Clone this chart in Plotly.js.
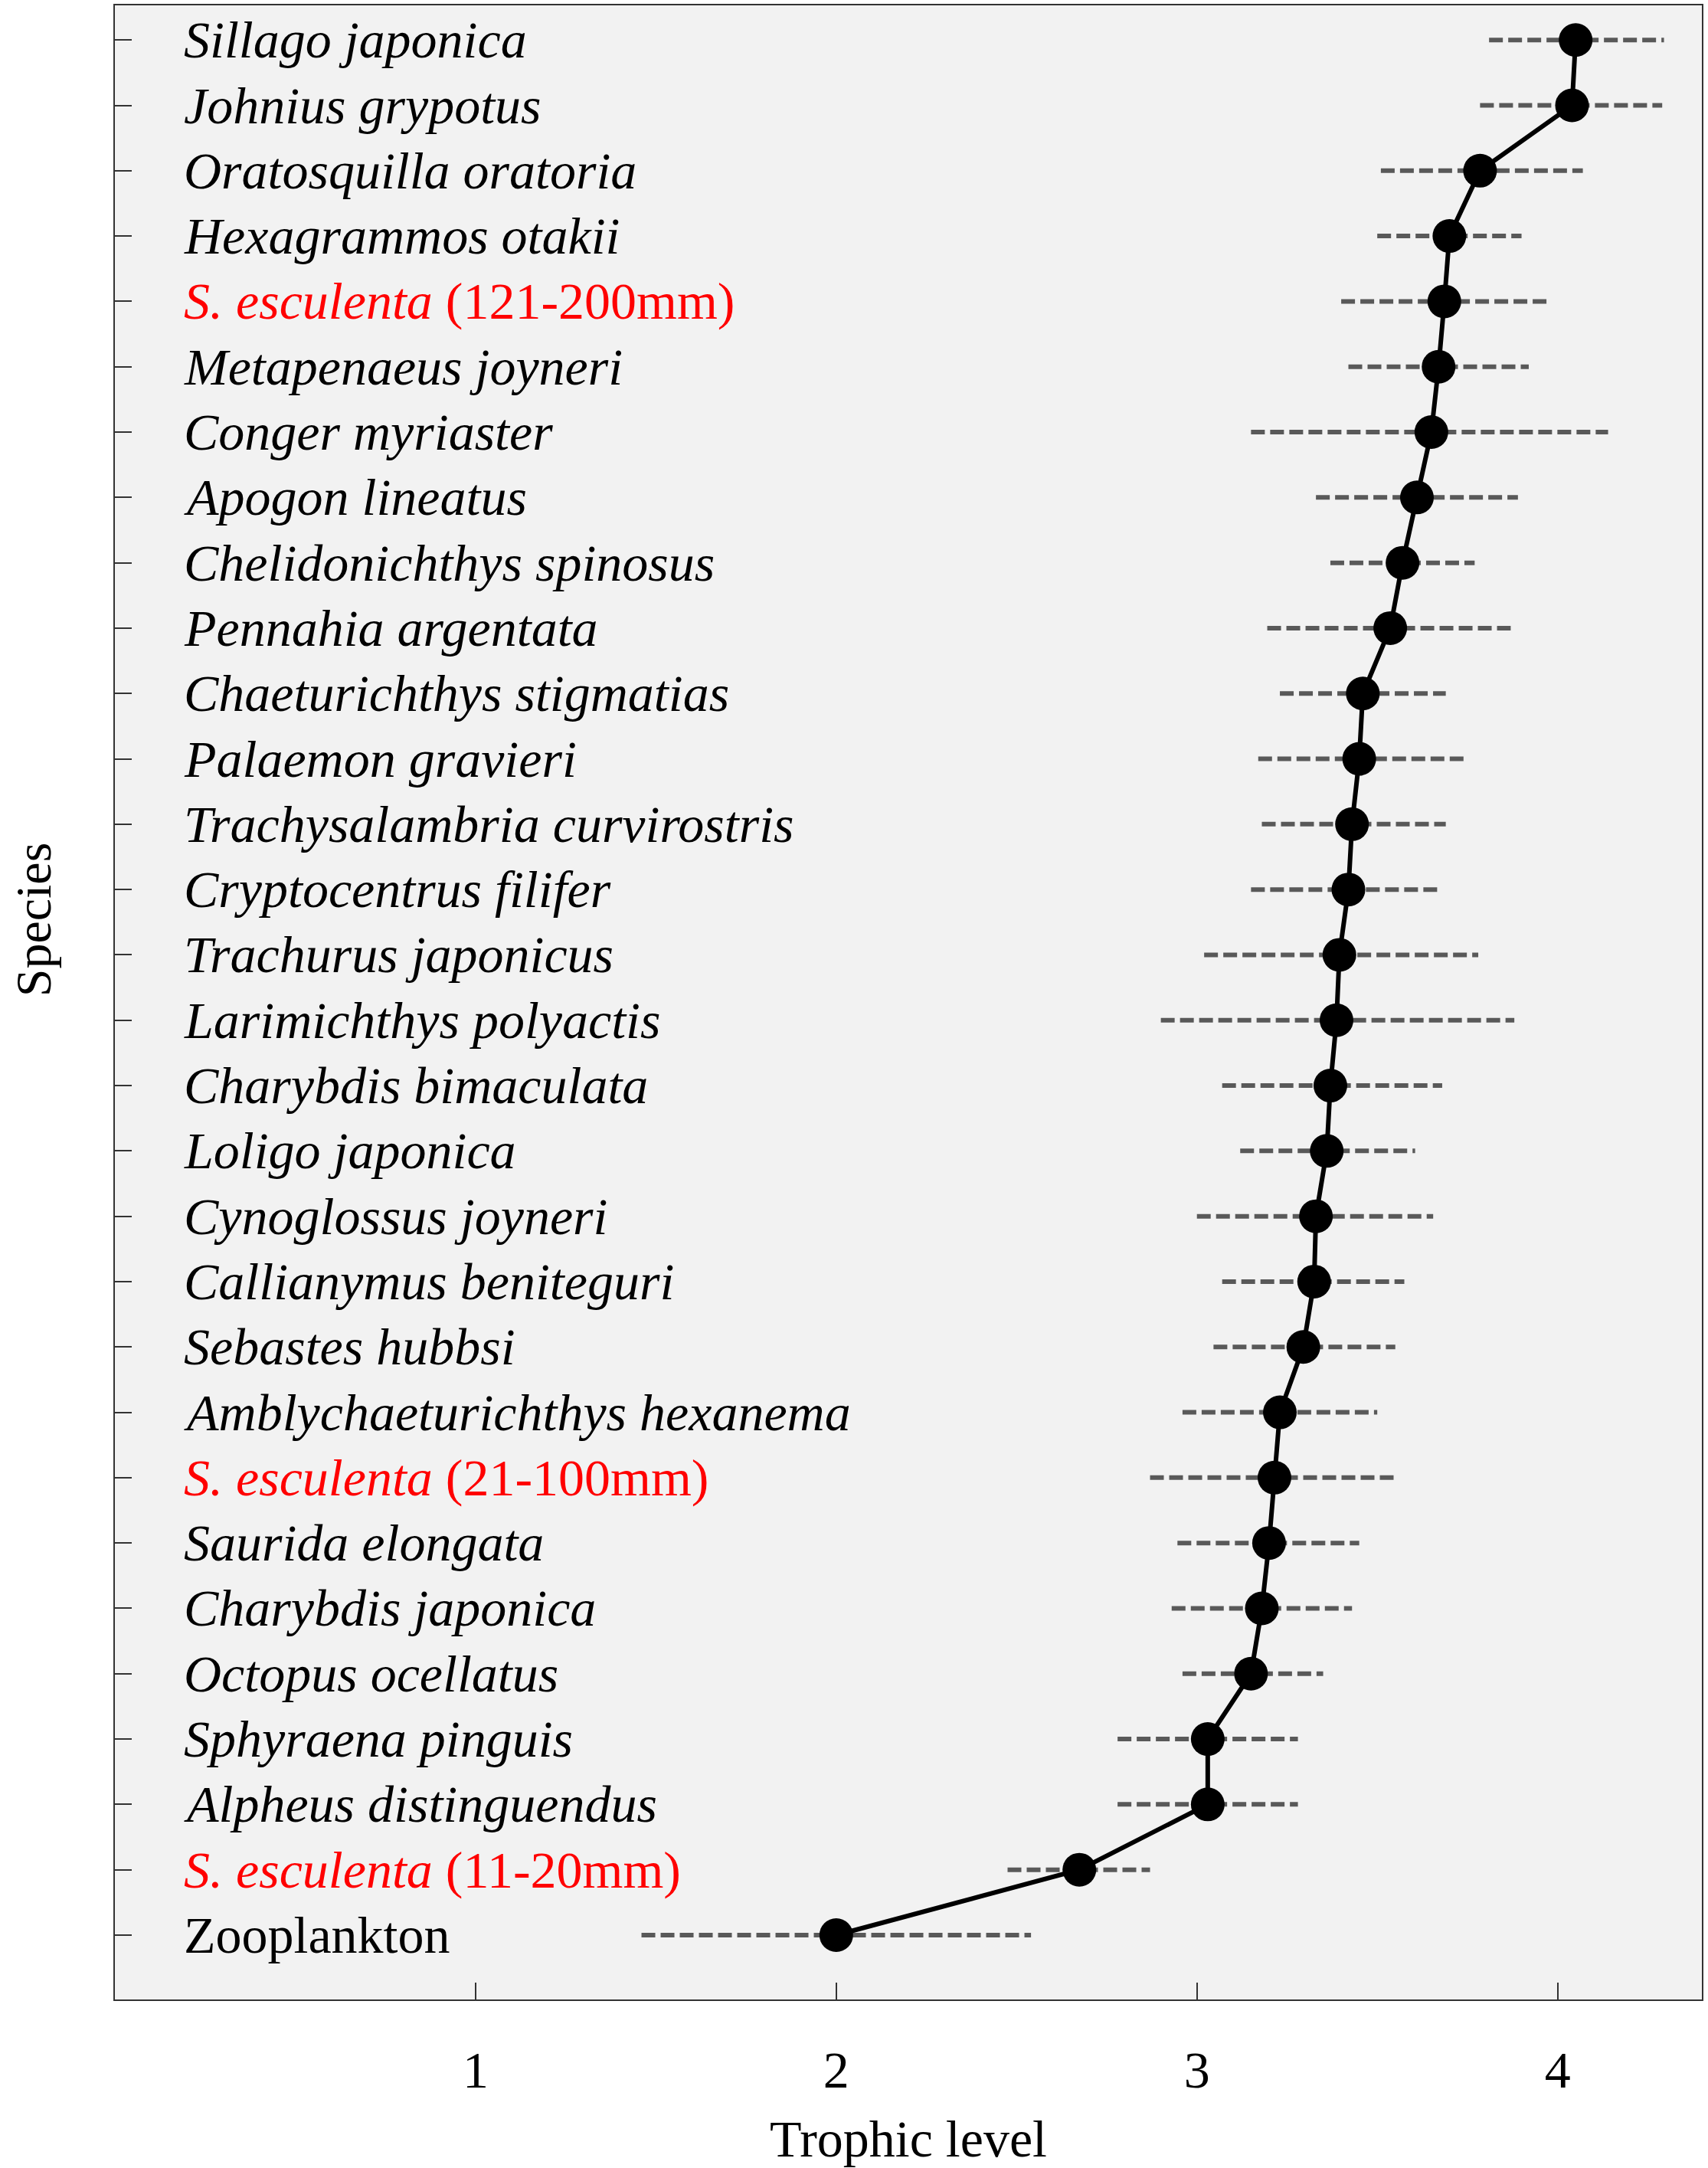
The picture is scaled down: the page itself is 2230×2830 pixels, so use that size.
<!DOCTYPE html>
<html>
<head>
<meta charset="utf-8">
<script src="https://cdn.plot.ly/plotly-3.0.1.min.js"></script>
<style>html,body{margin:0;padding:0;background:#fff;}#chart{width:2230px;height:2830px;}</style>
</head>
<body>
<div id="chart"></div>
<script>
// Species, top to bottom as in the figure
const species = [
  "Sillago japonica","Johnius grypotus","Oratosquilla oratoria","Hexagrammos otakii",
  "S. esculenta (121-200mm)","Metapenaeus joyneri","Conger myriaster","Apogon lineatus",
  "Chelidonichthys spinosus","Pennahia argentata","Chaeturichthys stigmatias","Palaemon gravieri",
  "Trachysalambria curvirostris","Cryptocentrus filifer","Trachurus japonicus","Larimichthys polyactis",
  "Charybdis bimaculata","Loligo japonica","Cynoglossus joyneri","Callianymus beniteguri",
  "Sebastes hubbsi","Amblychaeturichthys hexanema","S. esculenta (21-100mm)","Saurida elongata",
  "Charybdis japonica","Octopus ocellatus","Sphyraena pinguis","Alpheus distinguendus",
  "S. esculenta (11-20mm)","Zooplankton"
];
// Mean trophic level
const trophicMean = [
  4.05,4.04,3.785,3.70,3.686,3.67,3.65,3.61,3.57,3.536,3.46,3.45,3.43,3.42,3.395,3.387,
  3.37,3.36,3.33,3.325,3.295,3.23,3.215,3.20,3.18,3.15,3.03,3.03,2.674,2.0
];
// Lower and upper ends of the dashed ranges
const trophicLow = [
  3.81,3.785,3.51,3.50,3.40,3.42,3.15,3.33,3.37,3.195,3.23,3.17,3.18,3.15,3.02,2.90,
  3.07,3.12,3.00,3.07,3.046,2.96,2.87,2.946,2.93,2.96,2.78,2.78,2.475,1.46
];
const trophicHigh = [
  4.295,4.29,4.07,3.90,3.98,3.92,4.14,3.89,3.77,3.87,3.69,3.74,3.69,3.68,3.78,3.88,
  3.68,3.605,3.655,3.575,3.55,3.50,3.555,3.45,3.43,3.35,3.28,3.28,2.87,2.54
];
const xTickVals = [1,2,3,4];

// Label formatting built from the names
function fmt(name){
  if (name.startsWith("S. esculenta")) {
    const rest = name.slice("S. esculenta".length);
    return '<span style="color:#ff0000"><i>S. esculenta</i>' + rest + '</span>';
  }
  if (name === "Zooplankton") return name;
  return '<i>' + name + '</i>';
}

const font = "Liberation Serif, Times New Roman, serif";

// Dashed range segments
const segX = [], segY = [];
species.forEach((s,i)=>{ segX.push(trophicLow[i], trophicHigh[i], null); segY.push(s, s, null); });

const traces = [
  {type:'scatter', mode:'lines', x:segX, y:segY, hoverinfo:'skip', connectgaps:false,
   line:{color:'#595959', width:6, dash:'18px,7px'}, showlegend:false},
  {type:'scatter', mode:'lines+markers', x:trophicMean, y:species,
   line:{color:'#000', width:6}, marker:{color:'#000', size:44}, showlegend:false}
];

const annotations = species.map(s => ({
  xref:'paper', yref:'y', x:0.0425, y:s, xanchor:'left', yanchor:'middle',
  text:fmt(s), showarrow:false, font:{family:font, size:68, color:'#000'}
}));
annotations.push({
  xref:'paper', yref:'paper', x:-0.051, y:0.5417, xanchor:'center', yanchor:'middle',
  text:'Species', textangle:-90, showarrow:false, font:{family:font, size:66, color:'#000'}
});

const n = species.length;
const layout = {
  width:2230, height:2830,
  paper_bgcolor:'#ffffff', plot_bgcolor:'#f2f2f2',
  margin:{l:150, r:8, t:7, b:220},
  font:{family:font, size:68, color:'#000'},
  showlegend:false,
  annotations:annotations,
  xaxis:{
    range:[0,4.4], tickmode:'array', tickvals:xTickVals, ticktext:xTickVals.map(String),
    ticks:'inside', ticklen:22, tickwidth:2, tickcolor:'#333',
    showline:true, linecolor:'#333', linewidth:2, mirror:true,
    showgrid:false, zeroline:false,
    tickfont:{family:font, size:68, color:'#000'},
    ticklabelstandoff:31,
    title:{text:'Trophic level', font:{family:font, size:68, color:'#000'}, standoff:32}
  },
  yaxis:{
    type:'category', categoryorder:'array', categoryarray:species,
    range:[n-1+0.985, -0.53],
    tickmode:'array', tickvals:species, showticklabels:false,
    ticks:'inside', ticklen:22, tickwidth:2, tickcolor:'#333',
    showline:true, linecolor:'#333', linewidth:2, mirror:true,
    showgrid:false, zeroline:false
  }
};

Plotly.newPlot('chart', traces, layout, {displayModeBar:false, staticPlot:true});
</script>
</body>
</html>
